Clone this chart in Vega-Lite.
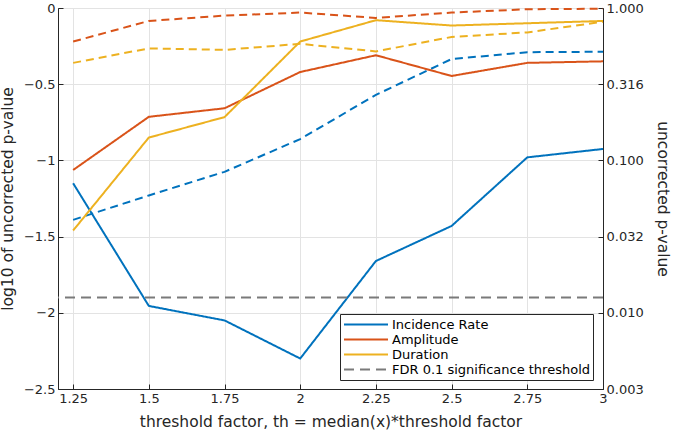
{
  "$schema": "https://vega.github.io/schema/vega-lite/v6.json",
  "width": 545,
  "height": 381,
  "autosize": "none",
  "padding": {"left": 58, "top": 8, "right": 72, "bottom": 41},
  "config": {
    "font": "DejaVu Sans",
    "view": {"stroke": "#262626", "strokeWidth": 1},
    "axis": {
      "labelFont": "DejaVu Sans", "titleFont": "DejaVu Sans",
      "labelFontSize": 13, "titleFontSize": 15.5, "titleFontWeight": "normal",
      "labelColor": "#262626", "titleColor": "#262626",
      "domainColor": "#262626", "tickColor": "#262626",
      "gridColor": "#e3e3e3", "gridWidth": 1
    }
  },
  "datasets": {
    "lines": [
      {"x": 1.25, "series": "Incidence Rate", "kind": "solid", "v": -1.15},
      {"x": 1.5, "series": "Incidence Rate", "kind": "solid", "v": -1.955},
      {"x": 1.75, "series": "Incidence Rate", "kind": "solid", "v": -2.05},
      {"x": 2, "series": "Incidence Rate", "kind": "solid", "v": -2.30},
      {"x": 2.25, "series": "Incidence Rate", "kind": "solid", "v": -1.66},
      {"x": 2.5, "series": "Incidence Rate", "kind": "solid", "v": -1.43},
      {"x": 2.75, "series": "Incidence Rate", "kind": "solid", "v": -0.98},
      {"x": 3, "series": "Incidence Rate", "kind": "solid", "v": -0.925},
      {"x": 1.25, "series": "Amplitude", "kind": "solid", "v": -1.063},
      {"x": 1.5, "series": "Amplitude", "kind": "solid", "v": -0.714},
      {"x": 1.75, "series": "Amplitude", "kind": "solid", "v": -0.658},
      {"x": 2, "series": "Amplitude", "kind": "solid", "v": -0.42},
      {"x": 2.25, "series": "Amplitude", "kind": "solid", "v": -0.31},
      {"x": 2.5, "series": "Amplitude", "kind": "solid", "v": -0.446},
      {"x": 2.75, "series": "Amplitude", "kind": "solid", "v": -0.36},
      {"x": 3, "series": "Amplitude", "kind": "solid", "v": -0.35},
      {"x": 1.25, "series": "Duration", "kind": "solid", "v": -1.46},
      {"x": 1.5, "series": "Duration", "kind": "solid", "v": -0.85},
      {"x": 1.75, "series": "Duration", "kind": "solid", "v": -0.716},
      {"x": 2, "series": "Duration", "kind": "solid", "v": -0.22},
      {"x": 2.25, "series": "Duration", "kind": "solid", "v": -0.08},
      {"x": 2.5, "series": "Duration", "kind": "solid", "v": -0.115},
      {"x": 2.75, "series": "Duration", "kind": "solid", "v": -0.10},
      {"x": 3, "series": "Duration", "kind": "solid", "v": -0.085},
      {"x": 1.25, "series": "Incidence Rate", "kind": "dashed", "v": -1.39},
      {"x": 1.5, "series": "Incidence Rate", "kind": "dashed", "v": -1.23},
      {"x": 1.75, "series": "Incidence Rate", "kind": "dashed", "v": -1.075},
      {"x": 2, "series": "Incidence Rate", "kind": "dashed", "v": -0.86},
      {"x": 2.25, "series": "Incidence Rate", "kind": "dashed", "v": -0.57},
      {"x": 2.5, "series": "Incidence Rate", "kind": "dashed", "v": -0.335},
      {"x": 2.75, "series": "Incidence Rate", "kind": "dashed", "v": -0.29},
      {"x": 3, "series": "Incidence Rate", "kind": "dashed", "v": -0.287},
      {"x": 1.25, "series": "Amplitude", "kind": "dashed", "v": -0.22},
      {"x": 1.5, "series": "Amplitude", "kind": "dashed", "v": -0.085},
      {"x": 1.75, "series": "Amplitude", "kind": "dashed", "v": -0.05},
      {"x": 2, "series": "Amplitude", "kind": "dashed", "v": -0.03},
      {"x": 2.25, "series": "Amplitude", "kind": "dashed", "v": -0.065},
      {"x": 2.5, "series": "Amplitude", "kind": "dashed", "v": -0.03},
      {"x": 2.75, "series": "Amplitude", "kind": "dashed", "v": -0.008},
      {"x": 3, "series": "Amplitude", "kind": "dashed", "v": -0.005},
      {"x": 1.25, "series": "Duration", "kind": "dashed", "v": -0.36},
      {"x": 1.5, "series": "Duration", "kind": "dashed", "v": -0.265},
      {"x": 1.75, "series": "Duration", "kind": "dashed", "v": -0.275},
      {"x": 2, "series": "Duration", "kind": "dashed", "v": -0.235},
      {"x": 2.25, "series": "Duration", "kind": "dashed", "v": -0.285},
      {"x": 2.5, "series": "Duration", "kind": "dashed", "v": -0.19},
      {"x": 2.75, "series": "Duration", "kind": "dashed", "v": -0.16},
      {"x": 3, "series": "Duration", "kind": "dashed", "v": -0.09}
    ],
    "threshold": [
      {"series": "FDR 0.1 significance threshold", "v": -1.9}
    ]
  },
  "resolve": {"axis": {"y": "independent"}},
  "layer": [
    {
      "data": {"name": "lines"},
      "transform": [{"filter": "datum.kind === 'dashed'"}],
      "mark": {"type": "line", "strokeWidth": 2, "strokeDash": [8, 5]},
      "encoding": {
        "x": {"field": "x", "type": "quantitative",
              "scale": {"domain": [1.2, 3], "nice": false, "zero": false},
              "axis": {"values": [1.25, 1.5, 1.75, 2, 2.25, 2.5, 2.75, 3], "labelExpr": "datum.value + ''",
                       "title": "threshold factor, th = median(x)*threshold factor",
                       "tickSize": -5, "labelPadding": 8, "grid": true, "labelFlush": false, "titlePadding": 9}},
        "y": {"field": "v", "type": "quantitative",
              "scale": {"domain": [-2.5, 0], "nice": false, "zero": false},
              "axis": {"orient": "right", "values": [-2.5, -2, -1.5, -1, -0.5, 0],
                       "labelExpr": "format(pow(10, datum.value), '.3f')",
                       "title": "uncorrected p-value", "tickSize": -5, "labelPadding": 8,
                       "grid": false, "labelFlush": false, "titlePadding": 11}},
        "color": {"field": "series", "type": "nominal",
                  "scale": {"domain": ["Incidence Rate", "Amplitude", "Duration", "FDR 0.1 significance threshold"],
                            "range": ["#0072BD", "#D95319", "#EDB120", "#7a7a7a"]},
                  "legend": {"title": null, "orient": "none", "legendX": 282, "legendY": 306,
                             "fillColor": "white", "strokeColor": "#262626", "padding": 3,
                             "labelFontSize": 13, "labelFont": "DejaVu Sans", "labelColor": "#000000",
                             "labelLimit": 400, "clipHeight": 15,
                             "symbolSize": 1936, "symbolStrokeWidth": 2, "rowPadding": 0, "labelOffset": 3,
                             "symbolType": "stroke", "cornerRadius": 0}},
        "detail": {"field": "series"}
      }
    },
    {
      "data": {"name": "lines"},
      "transform": [{"filter": "datum.kind === 'solid'"}],
      "mark": {"type": "line", "strokeWidth": 2},
      "encoding": {
        "x": {"field": "x", "type": "quantitative",
              "axis": {"values": [1.25, 1.5, 1.75, 2, 2.25, 2.5, 2.75, 3], "labelExpr": "datum.value + ''",
                       "title": "threshold factor, th = median(x)*threshold factor",
                       "tickSize": -5, "labelPadding": 8, "grid": true, "labelFlush": false, "titlePadding": 9}},
        "y": {"field": "v", "type": "quantitative",
              "axis": {"orient": "left", "values": [-2.5, -2, -1.5, -1, -0.5, 0], "format": "~g",
                       "title": "log10 of uncorrected p-value", "tickSize": -5, "labelPadding": 8,
                       "grid": true, "labelFlush": false, "titlePadding": 8}},
        "color": {"field": "series", "type": "nominal"},
        "strokeDash": {"field": "series", "type": "nominal",
                       "scale": {"domain": ["Incidence Rate", "Amplitude", "Duration", "FDR 0.1 significance threshold"],
                                 "range": [[1, 0], [1, 0], [1, 0], [10, 6]]}}
      }
    },
    {
      "data": {"name": "threshold"},
      "mark": {"type": "rule", "strokeWidth": 2},
      "encoding": {
        "y": {"field": "v", "type": "quantitative", "axis": null},
        "color": {"field": "series", "type": "nominal"},
        "strokeDash": {"field": "series", "type": "nominal"}
      }
    }
  ]
}
